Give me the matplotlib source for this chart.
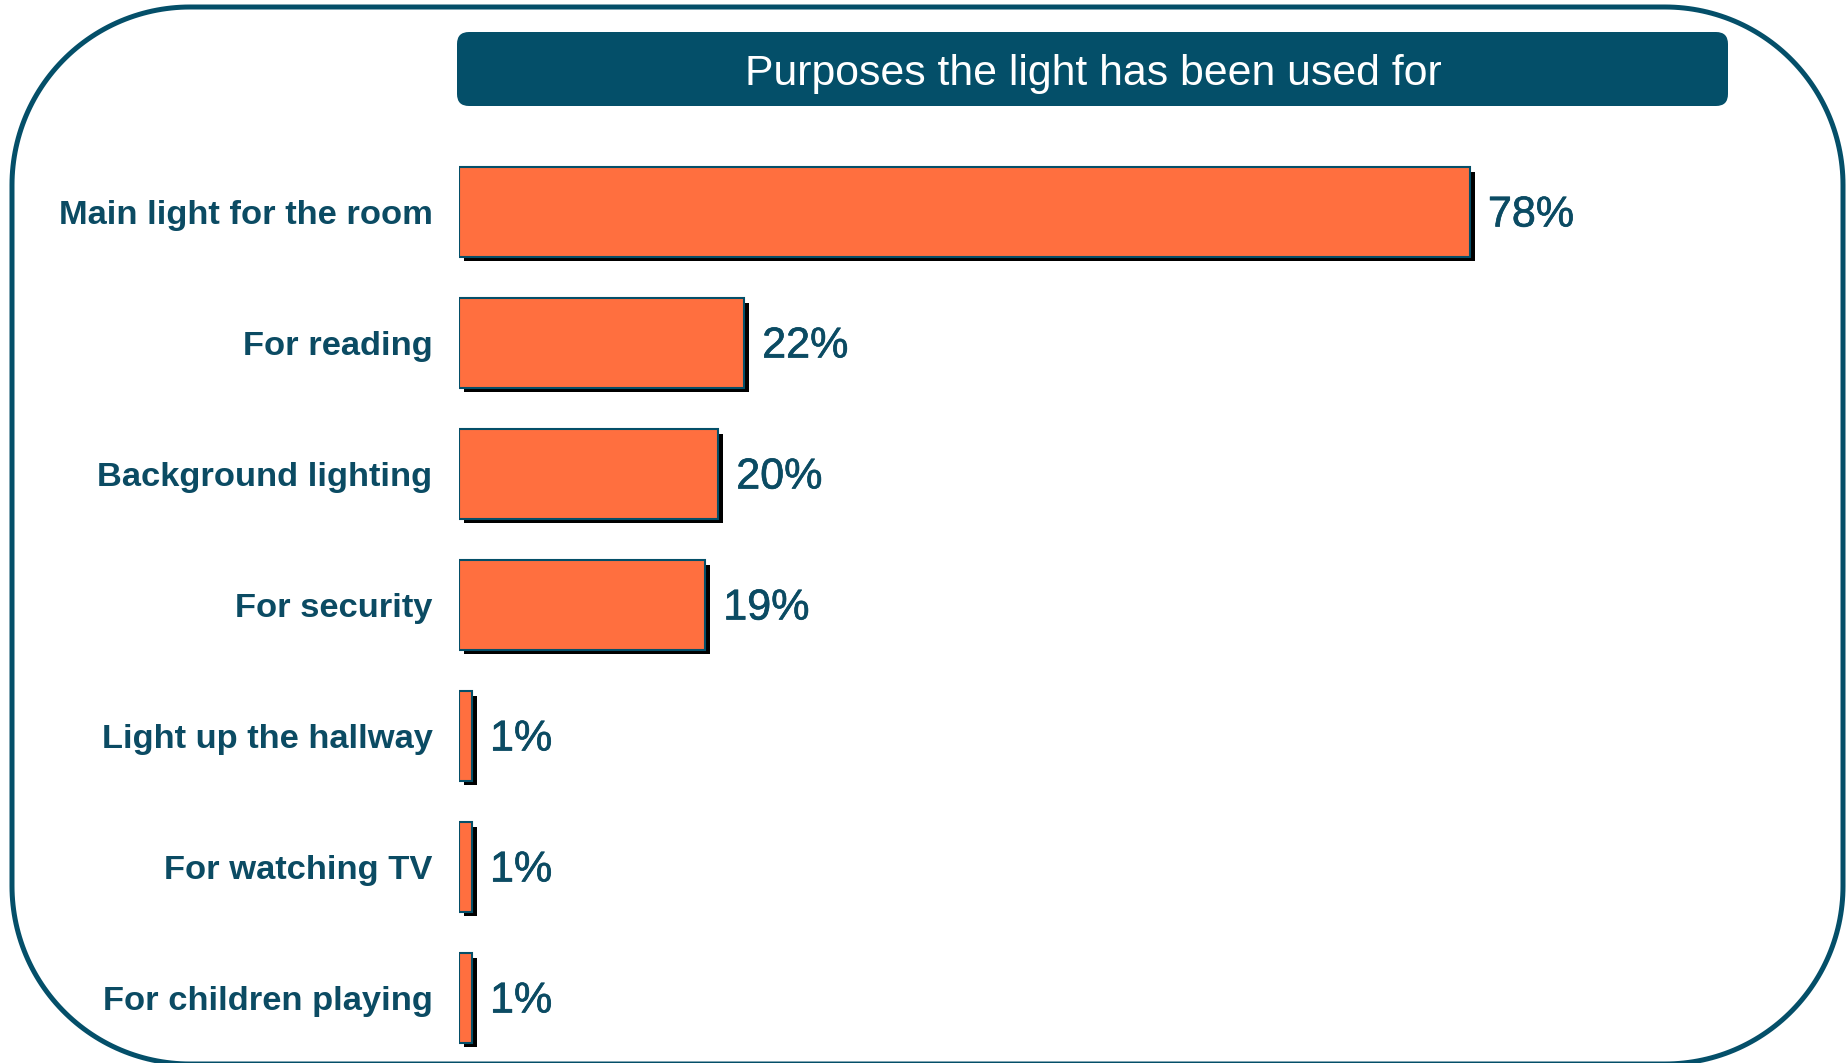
import numpy as np
import matplotlib
matplotlib.use("Agg")
import matplotlib.pyplot as plt
import matplotlib.patheffects as pe
from matplotlib.patches import FancyBboxPatch, Polygon

categories = ["Main light for the room", "For reading", "Background lighting",
              "For security", "Light up the hallway", "For watching TV",
              "For children playing"]
values = [78, 22, 20, 19, 1, 1, 1]
title = "Purposes the light has been used for"

teal = "#044f69"
label_col = "#0b4b63"
orange = "#ff6f3f"

W, H = 1847, 1063


def rounded_outline(x0, y0, x1, y1, r, n=60):
    # corner centres and sweep angles, y axis pointing down
    corners = [((x0 + r, y0 + r), 180, 270), ((x1 - r, y0 + r), 270, 360),
               ((x1 - r, y1 - r), 0, 90), ((x0 + r, y1 - r), 90, 180)]
    pts = []
    for (cx, cy), a0, a1 in corners:
        t = np.radians(np.linspace(a0, a1, n))
        pts.append(np.column_stack([cx + r * np.cos(t), cy + r * np.sin(t)]))
    return np.vstack(pts)


fig = plt.figure(figsize=(W / 100, H / 100), dpi=100)

# background layer in pixel units for the frame and the title banner
bg = fig.add_axes([0, 0, 1, 1])
bg.set_xlim(0, W)
bg.set_ylim(H, 0)
bg.axis("off")
bg.add_patch(Polygon(rounded_outline(12, 7, 1843, 1064, 178), closed=True,
                     fc="white", ec=teal, lw=3.6))
bg.add_patch(FancyBboxPatch((457, 32), 1271, 74,
                            boxstyle="round,pad=0,rounding_size=12",
                            fc=teal, ec="none"))
bg.text(1093, 74, title, color="white", fontsize=30.8,
        family="Liberation Sans", ha="center", va="center")

# bar chart
ax = fig.add_axes([459 / W, -0.5 / H, 1296 / W, 917 / H])
ax.patch.set_alpha(0)
y = list(range(len(categories)))
bars = ax.barh(y, values, height=0.68, color=orange, edgecolor=teal,
               linewidth=1.5)
for b in bars:
    b.set_path_effects([pe.SimplePatchShadow(offset=(3.5, -3.5),
                                             shadow_rgbFace="black", alpha=1.0),
                        pe.Normal()])

for yi, v in zip(y, values):
    ax.annotate(f"{v}%", xy=(v, yi), xytext=(13, -2.5), textcoords="offset points",
                va="center", ha="left", fontsize=31, color=label_col,
                family="Liberation Sans",
                path_effects=[pe.withStroke(linewidth=0.5, foreground=label_col)])

ax.set_xlim(0, 100)
ax.set_ylim(len(categories) - 0.5, -0.5)
ax.set_yticks(y)
ax.set_yticklabels(categories, fontsize=24.8, fontweight="bold",
                   color=label_col, family="Liberation Sans")
ax.tick_params(axis="y", length=0, pad=19)
ax.set_xticks([])
for s in ax.spines.values():
    s.set_visible(False)

fig.savefig("out.png", dpi=100)
